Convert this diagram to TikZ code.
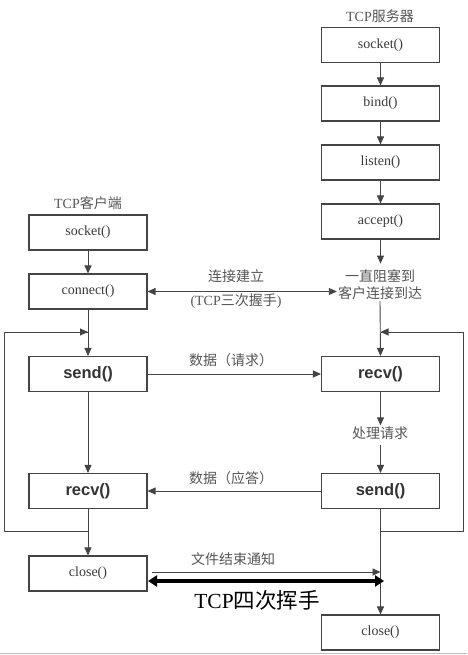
\documentclass[tikz,border=0pt]{standalone}
\usepackage{fontspec}
\setmainfont{Liberation Serif}
\newfontfamily\cjk{Noto Sans CJK SC}
\newfontfamily\arial{Liberation Sans}
\usetikzlibrary{arrows.meta,calc}
\definecolor{bx}{HTML}{444444}
\definecolor{tx}{HTML}{3A3A3A}
\definecolor{lbl}{HTML}{555555}
\tikzset{
  box/.style={draw=bx,line width=1.1pt,minimum width=118pt,minimum height=35pt,inner sep=0pt,font=\fontsize{14}{16}\selectfont,text=tx},
  bbox/.style={box,font=\arial\bfseries\fontsize{16.5}{18}\selectfont,text=black!80},
  lab/.style={font=\fontsize{14}{17}\selectfont,text=lbl,inner sep=1pt,align=center},
  conn/.style={draw=bx,line width=0.9pt,-{Triangle[length=8pt,width=7pt]}},
  bline/.style={draw=bx,line width=0.9pt},
  thick2/.style={draw=black,line width=3.5pt,{Triangle[length=9pt,width=11pt]}-{Triangle[length=9pt,width=11pt]}}
}
\begin{document}
\begin{tikzpicture}[x=1pt,y=-1pt]
\useasboundingbox (0,0) rectangle (467,655);
\fill[white] (0,0) rectangle (467,655);
\draw[black!25,line width=1pt] (0,653) -- (467,653);
% server column
\node[lab] (stitle) at (380,16) {TCP{\cjk 服务器}};
\node[box] (ssock) at (380.5,45) {socket()};
\node[box] (sbind) at (380.5,103.5) {bind()};
\node[box] (slist) at (380.5,162.5) {listen()};
\node[box] (sacc) at (380.5,221.5) {accept()};
\node[lab,text=lbl] (wait) at (380,285) {{\cjk 一直阻塞到}\\{\cjk 客户连接到达}};
\node[bbox] (srecv) at (380.5,374) {recv()};
\node[lab] (proc) at (380,433) {\cjk 处理请求};
\node[bbox] (ssend) at (380.5,491) {send()};
\node[box] (sclose) at (380.5,632.5) {close()};
% client column
\node[lab] (ctitle) at (88,203) {TCP{\cjk 客户端}};
\node[box] (csock) at (88,232.5) {socket()};
\node[box] (cconn) at (88,291.5) {connect()};
\node[bbox] (csend) at (88,374) {send()};
\node[bbox] (crecv) at (88,491) {recv()};
\node[box] (cclose) at (88,573.5) {close()};
% server vertical arrows
\draw[conn] (ssock) -- (sbind);
\draw[conn] (sbind) -- (slist);
\draw[conn] (slist) -- (sacc);
\draw[conn] (sacc.south) -- ++(0,24);
\draw[conn] (wait.south) -- (srecv.north);
\draw[conn] (srecv.south) -- (proc.north -| srecv.south);
\draw[conn] (proc.south -| ssend.north) ++(0,4) -- (ssend.north);
\draw[conn] (ssend) -- (sclose);
% client vertical arrows
\draw[conn] (csock) -- (cconn);
\draw[conn] (cconn) -- (csend);
\draw[conn] (csend) -- (crecv);
\draw[conn] (crecv) -- (cclose);
% loops
\coordinate (clb) at (88,531);
\coordinate (clt) at (88,332);
\coordinate (slb) at (380.5,531);
\coordinate (slt) at (380.5,332);
\draw[bline] (clb) -- (4,531) -- (4,332) -- (clt);
\draw[conn] (40,332) -- (clt);
\draw[bline] (slb) -- (463,531) -- (463,332) -- (slt);
\draw[conn] (420,332) -- (slt);
% horizontal arrows
\draw[conn,{Triangle[length=8pt,width=7pt]}-{Triangle[length=8pt,width=7pt]}] (cconn.east) -- (cconn.east -| wait.west);
\node[lab] (est1) at (236,276) {\cjk 连接建立};
\node[lab] (est2) at (236,301) {(TCP{\cjk 三次握手})};
\draw[conn] (csend) -- (srecv);
\node[lab] (req) at (231,360) {\cjk 数据（请求）};
\draw[conn] (ssend) -- (crecv);
\node[lab] (resp) at (231,478) {\cjk 数据（应答）};
\coordinate (fa) at (152,572);
\coordinate (fb) at (380.5,572);
\draw[conn] (fa) -- (fb);
\node[lab] (fin) at (233,559) {\cjk 文件结束通知};
\coordinate (ta) at (148,581);
\coordinate (tb) at (384,581);
\draw[thick2] (ta) -- (tb);
\node[font=\fontsize{21.5}{23}\selectfont,text=black] (four) at (257,600) {TCP{\cjk 四次挥手}};
\end{tikzpicture}
\end{document}
